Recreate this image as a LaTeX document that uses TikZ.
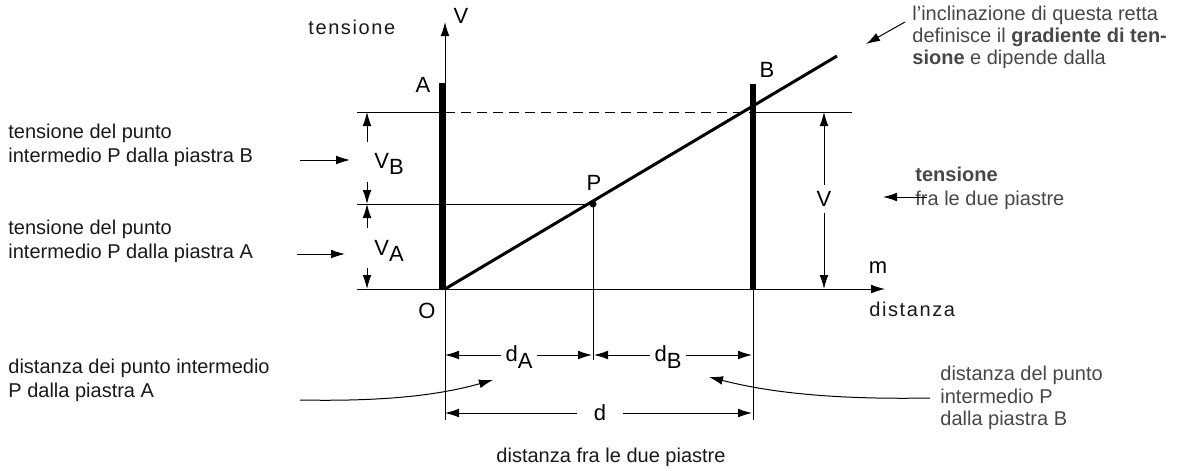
\documentclass[tikz,border=0pt]{standalone}
\usepackage{fontspec}
\setmainfont{Liberation Sans}
\newfontfamily\spaced[LetterSpace=8]{Liberation Sans}
\usetikzlibrary{arrows.meta}
\newcommand{\lowsub}[1]{\raisebox{-0.55ex}{#1}}
\tikzset{
  txt/.style={font=\fontsize{10}{12}\selectfont, text=black!90, inner sep=0pt, align=left},
  pale/.style={txt, text=black!72},
  sym/.style={font=\fontsize{11}{12}\selectfont, inner sep=0pt},
  dim/.style={line width=0.5pt, -{Latex[length=7pt,width=4.4pt]}},
  plate/.style={line width=3pt},
}
\begin{document}
\begin{tikzpicture}[x=0.5pt,y=-0.5pt]
\useasboundingbox (0,0) rectangle (1184,471);
\coordinate (O) at (445,289);
\coordinate (P) at (593,204);
\coordinate (B) at (753,112);
\coordinate (E) at (837,56);
% reference lines
\draw[line width=0.5pt] (357,112) -- (442,112);
\draw[line width=0.5pt, dash pattern=on 5pt off 3pt] (445,112) -- (B);
\draw[line width=0.5pt] (B) -- (852,112);
\draw[line width=0.5pt] (357,204) -- (P);
\draw[dim] (357,289) -- (885,289);
\node[sym] (m) at (878,268) {m};
\draw[dim] (445,420) -- (445,22);
\node[sym] (V) at (461,16) {V};
\draw[line width=0.5pt] (P) -- (593,360);
\draw[line width=0.5pt] (753,289) -- (753,420);
% piastre e retta
\draw[plate] (442,83) -- (442,289);
\draw[plate] (753,84) -- (753,289);
\draw[line width=1.5pt] (O) -- (E);
\fill (P) circle (3.5);
\node[sym] (lA) at (423,85) {A};
\node[sym] (lB) at (767,70) {B};
\node[sym] (lP) at (594,183) {P};
\node[sym] (lO) at (427,311) {O};
% quote verticali
\node[sym] (VB) at (389,164) {V\lowsub{B}};
\node[sym] (VA) at (389,251) {V\lowsub{A}};
\node[sym] (Vt) at (824,199) {V};
\draw[dim] (367,142) -- (367,112);
\draw[dim] (367,182) -- (367,204);
\draw[dim] (367,228) -- (367,204);
\draw[dim] (367,268) -- (367,289);
\draw[dim] (Vt.north) ++(0,-6) -- (824,112);
\draw[dim] (Vt.south) ++(0,6) -- (824,289);
% quote orizzontali
\node[sym] (dA) at (519,357) {d\lowsub{A}};
\node[sym] (dB) at (668,357) {d\lowsub{B}};
\node[sym] (d) at (600,413) {d};
\draw[dim] (dA.west) ++(-4,-2) -- (445,355);
\draw[dim] (dA.east) ++(4,-2) -- (592,355);
\draw[dim] (dB.west) ++(-4,-2) -- (594,355);
\draw[dim] (dB.east) ++(4,-2) -- (752,355);
\draw[dim] (d.west) ++(-16,0) -- (445,413);
\draw[dim] (d.east) ++(16,0) -- (752,413);
% testi
\node[txt, anchor=west] (tens) at (308,27) {\spaced tensione};
\node[txt, anchor=west] (dist) at (869,309) {\spaced distanza};
\node[txt, anchor=center] (dfra) at (611,457) {distanza fra le due piastre};
\node[txt, anchor=west] (tB) at (8,145) {tensione del punto\\intermedio P dalla piastra B};
\node[txt, anchor=west] (tA) at (8,241) {tensione del punto\\intermedio P dalla piastra A};
\node[pale, anchor=west] (tV) at (915,188) {\textbf{tensione}\\fra le due piastre};
\node[pale, anchor=north west, font=\fontsize{10}{11}\selectfont] (incl) at (912,6)
  {l'inclinazione di questa retta\\definisce il \textbf{gradiente di ten-}\\\textbf{sione} e dipende dalla};
\node[txt, anchor=west] (dPA) at (8,380) {distanza dei punto intermedio\\P dalla piastra A};
\node[pale, anchor=west, font=\fontsize{10}{11.2}\selectfont] (dPB) at (940,398) {distanza del punto\\intermedio P\\dalla piastra B};
% frecce dei testi
\draw[dim] (300,160) -- (350,160);
\draw[dim] (297,254) -- (345,254);
\draw[dim] (927,197) -- (883,197);
\draw[dim] (905,22) -- (866,44);
\draw[dim] (300,400) .. controls (400,402) and (450,392) .. (493,380);
\draw[dim] (930,398) .. controls (820,400) and (760,390) .. (709,377);
\end{tikzpicture}
\end{document}
